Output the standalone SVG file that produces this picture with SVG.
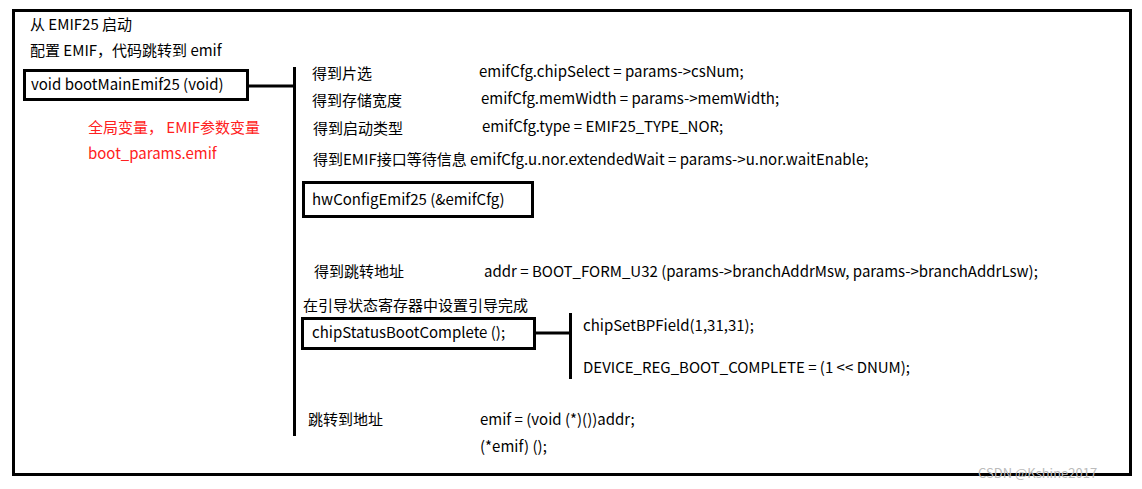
<svg xmlns="http://www.w3.org/2000/svg" width="1142" height="489" viewBox="0 0 1142 489">
<style>
text{font-family:"Noto Sans CJK SC","Noto Sans",sans-serif;font-size:15px;fill:#000}
.r{fill:#ff2020}
.b{fill:none;stroke:#000;stroke-width:3}
.l{stroke:#000;stroke-width:3;fill:none}
</style>
<rect x="0" y="0" width="1142" height="489" fill="#fff"/>
<rect x="13.5" y="10.5" width="1117" height="464" class="b"/>
<text x="30" y="30">从 EMIF25 启动</text>
<text x="30" y="56">配置 EMIF，代码跳转到 emif</text>
<g id="main"><rect x="24.5" y="70.5" width="223" height="29" class="b"/><text x="31" y="90">void bootMainEmif25 (void)</text></g>
<g id="note"><text class="r" x="88" y="133">全局变量， EMIF参数变量</text><text class="r" x="88" y="159">boot_params.emif</text></g>
<g id="connectors">
<path class="l" d="M248 86H294M294.5 67V436M535 333H570M570.5 313V379"/>
</g>
<g id="steps">
<text x="312" y="79">得到片选</text><text x="479" y="77">emifCfg.chipSelect = params-&gt;csNum;</text>
<text x="312" y="106">得到存储宽度</text><text x="481" y="104">emifCfg.memWidth    = params-&gt;memWidth;</text>
<text x="313" y="134">得到启动类型</text><text x="482" y="132">emifCfg.type = EMIF25_TYPE_NOR;</text>
<text x="313" y="165">得到EMIF接口等待信息 emifCfg.u.nor.extendedWait = params-&gt;u.nor.waitEnable;</text>
</g>
<g id="hw"><rect x="303.5" y="182.5" width="229" height="34" class="b"/><text x="312" y="205">hwConfigEmif25 (&amp;emifCfg)</text></g>
<g id="addr"><text x="314" y="277">得到跳转地址</text><text x="484" y="277">addr = BOOT_FORM_U32 (params-&gt;branchAddrMsw, params-&gt;branchAddrLsw);</text></g>
<text x="303" y="311">在引导状态寄存器中设置引导完成</text>
<g id="chip"><rect x="302.5" y="318.5" width="232" height="30" class="b"/><text x="312" y="338">chipStatusBootComplete ();</text></g>
<g id="chipsub"><text x="583" y="331">chipSetBPField(1,31,31);</text><text x="583" y="373">DEVICE_REG_BOOT_COMPLETE    = (1 &lt;&lt; DNUM);</text></g>
<g id="jump"><text x="308" y="425">跳转到地址</text><text x="480" y="425">emif = (void (*)())addr;</text><text x="480" y="452">(*emif) ();</text></g>
<text x="978" y="478" style="font-size:13px;fill:#bbb">CSDN @Kshine2017</text>
</svg>
